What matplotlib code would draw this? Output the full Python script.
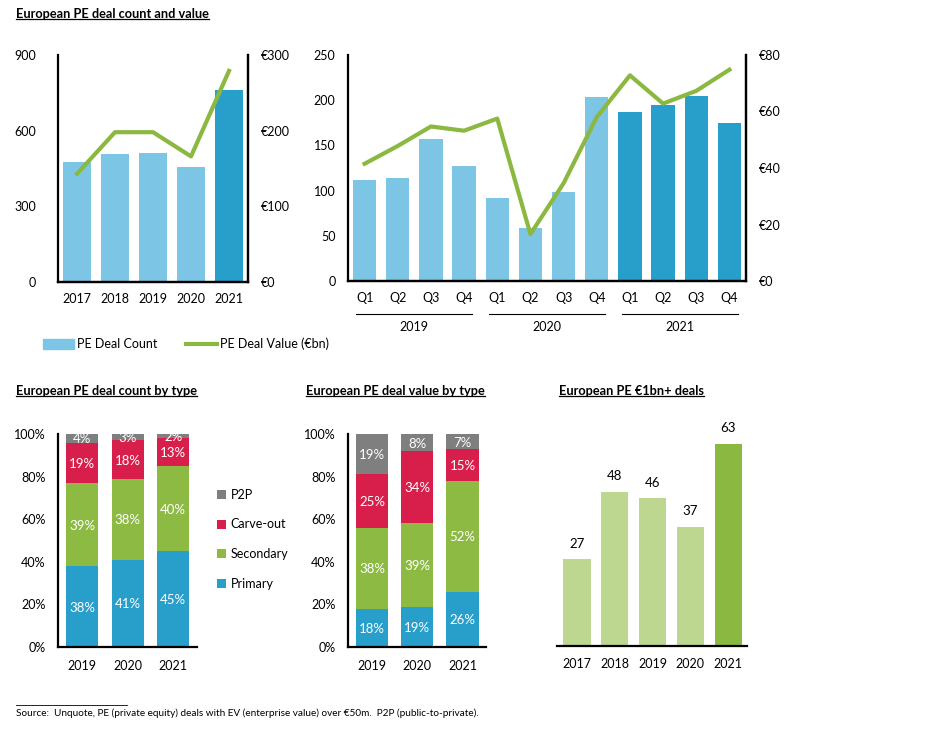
import numpy as np
import matplotlib
matplotlib.use('Agg')
import matplotlib.pyplot as plt
from matplotlib.lines import Line2D
from matplotlib.patches import Patch

plt.rcParams['font.family'] = ['Lato', 'DejaVu Sans']
plt.rcParams['font.size'] = 9

# data
years = ['2017', '2018', '2019', '2020', '2021']
deal_count = [474, 507, 511, 455, 761]
deal_value = [143, 198, 198, 166, 279]

quarters = ['Q1', 'Q2', 'Q3', 'Q4'] * 3
q_years = ['2019', '2020', '2021']
q_count = [112, 114, 157, 127, 92, 59, 99, 204, 187, 195, 205, 175]
q_value = [41.5, 47.8, 54.7, 53.2, 57.5, 16.6, 34.6, 58.0, 72.8, 62.8, 67.3, 74.8]

type_years = ['2019', '2020', '2021']
types = ['Primary', 'Secondary', 'Carve-out', 'P2P']
count_by_type = {
    'Primary': [38, 41, 45],
    'Secondary': [39, 38, 40],
    'Carve-out': [19, 18, 13],
    'P2P': [4, 3, 2],
}
value_by_type = {
    'Primary': [18, 19, 26],
    'Secondary': [38, 39, 52],
    'Carve-out': [25, 34, 15],
    'P2P': [19, 8, 7],
}

big_deals = [27, 48, 46, 37, 63]

LIGHT_BLUE = '#7DC5E4'
DARK_BLUE = '#279FCA'
GREEN = '#8BB840'
LIGHT_GREEN = '#BDD690'
type_colors = {'Primary': '#279FCA', 'Secondary': '#8DBA43',
               'Carve-out': '#D81F4B', 'P2P': '#7F7F7F'}

W, H = 950, 732
fig = plt.figure(figsize=(W / 100, H / 100), dpi=100)


def px_axes(x0, y0, x1, y1):
    return fig.add_axes([x0 / W, 1 - y1 / H, (x1 - x0) / W, (y1 - y0) / H])


def style(ax, left=True, right=False):
    for s in ['top', 'right', 'left', 'bottom']:
        ax.spines[s].set_visible(False)
    ax.spines['bottom'].set_visible(True)
    ax.spines['bottom'].set_linewidth(1.6)
    if left:
        ax.spines['left'].set_visible(True)
        ax.spines['left'].set_linewidth(1.6)
    if right:
        ax.spines['right'].set_visible(True)
        ax.spines['right'].set_linewidth(1.6)
    ax.tick_params(length=0)
    ax.set_facecolor('none')


titles = []

# ---- top left: yearly count and value
ax1 = px_axes(58, 55, 248, 282)
x = np.arange(len(years))
ax1.bar(x, deal_count, width=0.72, color=[LIGHT_BLUE] * 4 + [DARK_BLUE])
ax1.set_xlim(-0.5, 4.5)
ax1.set_ylim(0, 900)
ax1.set_yticks([0, 300, 600, 900])
ax1.set_xticks(x)
ax1.set_xticklabels(years)
style(ax1, right=True)
ax1.tick_params(axis='y', pad=16)
ax1.tick_params(axis='x', pad=8)
ax1b = ax1.twinx()
ax1b.plot(x, deal_value, color=GREEN, lw=3)
ax1b.set_ylim(0, 300)
ax1b.set_yticks([0, 100, 200, 300])
ax1b.set_yticklabels(['€0', '€100', '€200', '€300'])
style(ax1b, left=False, right=True)
ax1b.tick_params(axis='y', pad=9)

# ---- top right: quarterly count and value
ax2 = px_axes(348, 55, 746, 281)
xq = np.arange(len(quarters))
ax2.bar(xq, q_count, width=0.7, color=[LIGHT_BLUE] * 8 + [DARK_BLUE] * 4)
ax2.set_xlim(-0.5, 11.5)
ax2.set_ylim(0, 250)
ax2.set_yticks(range(0, 251, 50))
ax2.set_xticks(xq)
ax2.set_xticklabels(quarters)
style(ax2, right=True)
ax2.tick_params(axis='y', pad=9)
ax2.tick_params(axis='x', pad=8)
ax2b = ax2.twinx()
ax2b.plot(xq, q_value, color=GREEN, lw=3)
ax2b.set_ylim(0, 80)
ax2b.set_yticks(range(0, 81, 20))
ax2b.set_yticklabels(['€%d' % v for v in range(0, 81, 20)])
style(ax2b, left=False, right=True)
ax2b.tick_params(axis='y', pad=9)
trans = ax2.get_xaxis_transform()
for i, yr in enumerate(q_years):
    ax2.add_line(Line2D([i * 4 - 0.25, i * 4 + 3.25], [-0.146, -0.146],
                        transform=trans, color='black', lw=0.8, clip_on=False))
    ax2.text(i * 4 + 1.5, -0.205, yr, transform=trans, ha='center', va='center')

fig.legend(handles=[Patch(color=LIGHT_BLUE), Line2D([], [], color=GREEN, lw=3)],
           labels=['PE Deal Count', 'PE Deal Value (€bn)'],
           loc='center left', bbox_to_anchor=(38 / W, 1 - 344 / H), ncol=2,
           frameon=False, handlelength=2.5, handleheight=0.9,
           columnspacing=2.3, handletextpad=0.2, borderaxespad=0)


# ---- stacked by type
def stacked(ax, data):
    xs = np.arange(len(type_years))
    bottom = np.zeros(len(type_years))
    for t in types:
        vals = np.array(data[t])
        ax.bar(xs, vals, bottom=bottom, width=0.71, color=type_colors[t], label=t)
        for xi, b, v in zip(xs, bottom, vals):
            ax.text(xi, b + v / 2 - 0.5, '%d%%' % v, ha='center', va='center',
                    color='white', fontsize=9.5)
        bottom += vals
    ax.set_xlim(-0.53, 2.52)
    ax.set_ylim(0, 100)
    ax.set_yticks(range(0, 101, 20))
    ax.set_yticklabels(['%d%%' % v for v in range(0, 101, 20)])
    ax.set_xticks(xs)
    ax.set_xticklabels(type_years)
    style(ax)
    ax.tick_params(axis='y', pad=9)
    ax.tick_params(axis='x', pad=9)


ax3 = px_axes(58, 434, 197, 647)
stacked(ax3, count_by_type)
h, l = ax3.get_legend_handles_labels()
fig.legend(h[::-1], l[::-1], loc='upper left', bbox_to_anchor=(212 / W, 1 - 484 / H),
           frameon=False, handlelength=0.7, handleheight=0.7, labelspacing=1.4,
           handletextpad=0.4, borderaxespad=0)

ax4 = px_axes(348, 434, 486, 647)
stacked(ax4, value_by_type)

# ---- €1bn+ deals
ax5 = px_axes(557, 434, 747, 646)
xb = np.arange(len(years))
bars = ax5.bar(xb, big_deals, width=0.72, color=[LIGHT_GREEN] * 4 + [GREEN])
ax5.bar_label(bars, padding=7, fontsize=9.5)
ax5.set_xlim(-0.53, 4.5)
ax5.set_ylim(0, 66)
ax5.set_yticks([])
ax5.set_xticks(xb)
ax5.set_xticklabels(years)
style(ax5, left=False)
ax5.tick_params(axis='x', pad=9)

# titles
for tx, ty, s in [(16, 18, 'European PE deal count and value'),
                  (16, 395, 'European PE deal count by type'),
                  (306, 395, 'European PE deal value by type'),
                  (559, 395, 'European PE €1bn+ deals')]:
    titles.append(fig.text(tx / W, 1 - ty / H, s, fontweight='bold', fontsize=9.2,
                           ha='left', va='baseline'))

fig.text(16 / W, 1 - 716 / H,
         'Source:  Unquote, PE (private equity) deals with EV (enterprise value) over €50m.  P2P (public-to-private).',
         fontsize=7.2, ha='left', va='baseline')
fig.add_artist(Line2D([16 / W, 127 / W], [1 - 705 / H] * 2, transform=fig.transFigure,
                      color='black', lw=0.6))

fig.canvas.draw()
r = fig.canvas.get_renderer()
for t in titles:
    bb = t.get_window_extent(r)
    fig.add_artist(Line2D([bb.x0 / W, bb.x1 / W], [(bb.y0 + 1.5) / H] * 2,
                          transform=fig.transFigure, color='black', lw=0.9))

fig.savefig('out.png', dpi=100)
